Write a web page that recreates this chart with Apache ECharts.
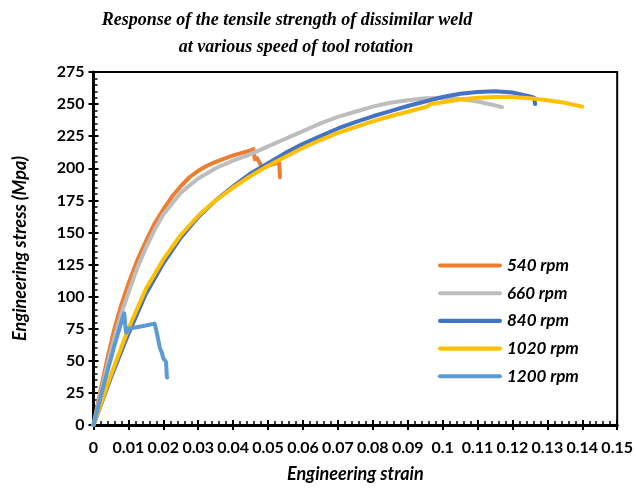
<!DOCTYPE html>
<html>
<head>
<meta charset="utf-8">
<title>Tensile response</title>
<script src="https://cdn.jsdelivr.net/npm/echarts@6/dist/echarts.min.js"></script>
<style>
  html, body { margin: 0; padding: 0; background: #fff; }
  #chart { width: 636px; height: 490px; }
</style>
</head>
<body>
<div id="chart"></div>
<script>
// strain / stress pairs
var rpm540 = [[0,0],[0.002,27],[0.004,52],[0.006,75],[0.008,94],[0.01,110],[0.0125,128],[0.015,143],[0.0175,157],[0.02,168],
  [0.0225,178],[0.025,186],[0.0275,193],[0.03,198],[0.0325,202],[0.035,205],[0.0375,207.5],[0.04,210],[0.0425,212],
  [0.045,214],[0.0458,215],[0.0462,207],[0.0468,208],[0.0485,200],[0.05,202],[0.0525,204],[0.0532,204.5],[0.0534,193]];
var rpm660 = [[0,0],[0.002,24],[0.004,47],[0.006,68],[0.008,87],[0.01,103],[0.0125,122],[0.015,138],[0.0175,152],
  [0.02,164],[0.025,181],[0.03,192],[0.035,200],[0.04,206],[0.045,211],[0.05,217],[0.055,223],[0.06,229],[0.065,235],
  [0.07,240],[0.075,244],[0.08,248],[0.085,251],[0.09,253],[0.095,254.5],[0.1,255],[0.105,254],[0.11,252],[0.115,249],[0.117,247.5]];
var rpm840 = [[0,0],[0.005,37],[0.01,71],[0.015,102],[0.02,126],[0.025,146],[0.03,162],[0.035,175],[0.04,186],
  [0.045,196],[0.05,204],[0.055,212],[0.06,219],[0.065,225],[0.07,231],[0.075,236],[0.08,240.5],[0.085,244.5],[0.09,248.5],
  [0.095,252],[0.1,255.5],[0.105,258],[0.11,259.5],[0.115,260],[0.12,259],[0.125,256],[0.1262,255],[0.1265,250]];
var rpm1020 = [[0,0],[0.005,39],[0.01,75],[0.015,106],[0.02,129],[0.025,148],[0.03,163],[0.035,175],[0.04,185],
  [0.045,194],[0.05,202],[0.055,209],[0.06,216],[0.065,222],[0.07,227.5],[0.075,232],[0.08,236.5],[0.085,240.5],[0.09,244],
  [0.0955,248],[0.096,247],[0.0965,250],[0.1,251.5],[0.105,253.5],[0.11,255],[0.115,255.5],[0.12,255.5],[0.125,254.5],
  [0.13,253],[0.135,251],[0.14,248]];
var rpm1200 = [[0,0],[0.003,32],[0.006,62],[0.0085,85],[0.0088,87],[0.0092,75],[0.0094,72],[0.0099,75],[0.012,76],
  [0.015,77.5],[0.0175,79],[0.0178,76],[0.0185,67],[0.019,60],[0.0195,57],[0.02,52],[0.0208,49],[0.021,38],[0.0211,37]];

var names = ['540 rpm', '660 rpm', '840 rpm', '1020 rpm', '1200 rpm'];
var colors = ['#ED7D31', '#BDBDBD', '#4472C4', '#FFC000', '#5B9BD5'];
var dataSets = [rpm540, rpm660, rpm840, rpm1020, rpm1200];

var myChart = echarts.init(document.getElementById('chart'));

var series = [];
var legendData = [];
for (var i = 0; i < names.length; i++) {
  series.push({
    name: names[i],
    type: 'line',
    xAxisIndex: 0,
    yAxisIndex: 0,
    symbol: 'none',
    color: colors[i],
    lineStyle: { width: 4, color: colors[i], cap: 'round', join: 'round' },
    data: dataSets[i]
  });
  // plain bar as legend icon, no marker
  legendData.push({ name: names[i], icon: 'path://M2,0 L60,0 A2,2 0 0 1 60,4 L2,4 A2,2 0 0 1 2,0 Z', itemStyle: { color: colors[i] } });
}

var labelFont = { fontFamily: 'Lato', fontWeight: 'bold', fontSize: 16, color: '#000' };
var nameFont = { fontFamily: 'Lato', fontWeight: 'bold', fontStyle: 'italic', fontSize: 18, color: '#000' };
var titleFont = { fontFamily: 'Liberation Serif', fontWeight: 'bold', fontStyle: 'italic', fontSize: 18, color: '#000' };

var option = {
  animation: false,
  title: [{
    text: 'Response of the tensile strength of dissimilar weld',
    left: 282, top: 6, textAlign: 'center',
    textStyle: titleFont
  }, {
    text: 'at various speed of tool rotation',
    left: 291, top: 33, textAlign: 'center',
    textStyle: titleFont
  }],
  legend: {
    orient: 'vertical',
    left: 433,
    top: 252,
    itemWidth: 64,
    itemHeight: 16,
    itemGap: 10.7,
    data: legendData,
    textStyle: { fontFamily: 'Lato', fontWeight: 'bold', fontStyle: 'italic', fontSize: 17, color: '#000' }
  },
  grid: {
    left: 93.5, right: 17, top: 72, bottom: 65,
    show: true, borderColor: '#000', borderWidth: 2
  },
  xAxis: [{
    type: 'value', min: 0, max: 0.15, interval: 0.01,
    position: 'bottom',
    name: 'Engineering strain', nameLocation: 'middle', nameGap: 40,
    nameTextStyle: nameFont,
    axisLine: { show: true, lineStyle: { color: '#000', width: 3 } },
    axisTick: { show: true, length: 5, lineStyle: { color: '#000', width: 2 } },
    axisLabel: Object.assign({ margin: 15, formatter: function (v) { return String(Math.round(v * 100) / 100); } }, labelFont),
    splitLine: { show: false }
  }, {
    type: 'value', min: 0, max: 0.15, interval: 0.01,
    position: 'bottom',
    axisLine: { show: false },
    axisTick: { show: true, inside: true, length: 5, lineStyle: { color: '#000', width: 2 } },
    minorTick: { show: true, splitNumber: 5, length: 4, lineStyle: { color: '#000', width: 1.5 } },
    axisLabel: { show: false },
    splitLine: { show: false }
  }],
  yAxis: [{
    type: 'value', min: 0, max: 275, interval: 25,
    position: 'left',
    name: 'Engineering stress (Mpa)', nameLocation: 'middle', nameGap: 64,
    nameTextStyle: nameFont,
    axisLine: { show: true, lineStyle: { color: '#000', width: 3 } },
    axisTick: { show: true, length: 5, lineStyle: { color: '#000', width: 2 } },
    axisLabel: Object.assign({ margin: 9 }, labelFont),
    splitLine: { show: false }
  }, {
    type: 'value', min: 0, max: 275, interval: 25,
    position: 'left',
    axisLine: { show: false },
    axisTick: { show: true, inside: true, length: 5, lineStyle: { color: '#000', width: 2 } },
    minorTick: { show: true, splitNumber: 5, length: 4, lineStyle: { color: '#000', width: 1.5 } },
    axisLabel: { show: false },
    splitLine: { show: false }
  }],
  series: series
};

myChart.setOption(option);
</script>
</body>
</html>
